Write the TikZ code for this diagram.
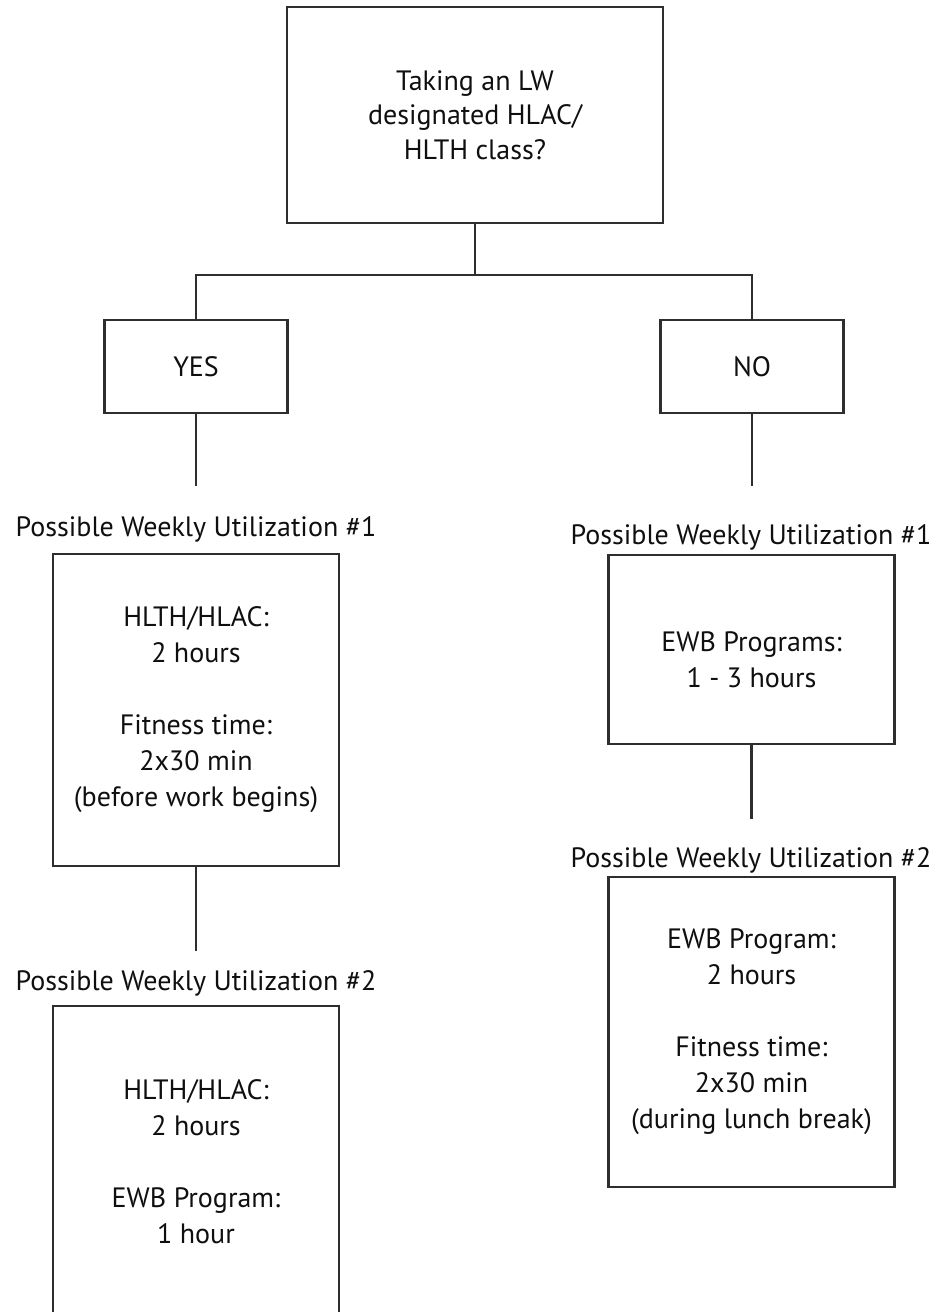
\documentclass[tikz,border=0pt]{standalone}
\usepackage{fontspec}
\setmainfont{PT Sans}

\begin{document}
\begin{tikzpicture}[
      x=1pt, y=-1pt,
      every node/.style={font=\fontsize{28}{36}\selectfont, text=black!94},
      outline box/.style={draw=black!82, line width=2.2pt, align=center, inner sep=0pt},
      question box/.style={outline box, minimum width=376pt, minimum height=216pt},
      answer box/.style={outline box, minimum width=183pt, minimum height=93pt},
      plan box/.style={outline box, minimum width=286pt, minimum height=#1},
      plan box/.default=312pt,
      plan title/.style={anchor=base, inner sep=0pt},
      link/.style={draw=black!82, line width=2.2pt}]
    \useasboundingbox (0,0) rectangle (941,1312);
    \clip (0,0) rectangle (941,1312);

    \node[question box, font=\fontsize{28}{34.5}\selectfont] (question) at (475,115) {Taking an LW\\ designated HLAC/\\ HLTH class?};
    \coordinate (fork) at (475,275);
    \node[answer box] (yes) at (196,366.5) {YES};
    \node[answer box] (no) at (752,366.5) {NO};
    \draw[link] (question.south) -- (fork);
    \draw[link] (yes.north) |- (fork) -| (no.north);

    % left branch
    \coordinate (yes end) at (196,486);
    \draw[link] (yes.south) -- (yes end);
    \node[plan title] (yes title1) at (196,536) {Possible Weekly Utilization \#1};
    \node[plan box] (yes plan1) at (196,710) {HLTH/HLAC:\\ 2 hours\\[36pt] Fitness time:\\ 2x30 min\\ (before work begins)};
    \coordinate (yes plan1 end) at (196,951);
    \draw[link] (yes plan1.south) -- (yes plan1 end);
    \node[plan title] (yes title2) at (196,990) {Possible Weekly Utilization \#2};
    \node[plan box] (yes plan2) at (196,1162) {HLTH/HLAC:\\ 2 hours\\[36pt] EWB Program:\\ 1 hour};

    % right branch
    \coordinate (no end) at (752,486);
    \draw[link] (no.south) -- (no end);
    \node[plan title] (no title1) at (751,544) {Possible Weekly Utilization \#1};
    \node[plan box=189pt] (no plan1) at (751.5,649.5) {\rule{0pt}{40pt}EWB Programs:\\ 1 - 3 hours};
    \coordinate (no plan1 end) at (751.5,819);
    \draw[link] (no plan1.south) -- (no plan1 end);
    \node[plan title] (no title2) at (751,867) {Possible Weekly Utilization \#2};
    \node[plan box=310pt] (no plan2) at (751.5,1032) {EWB Program:\\ 2 hours\\[36pt] Fitness time:\\ 2x30 min\\ (during lunch break)};
\end{tikzpicture}
\end{document}
